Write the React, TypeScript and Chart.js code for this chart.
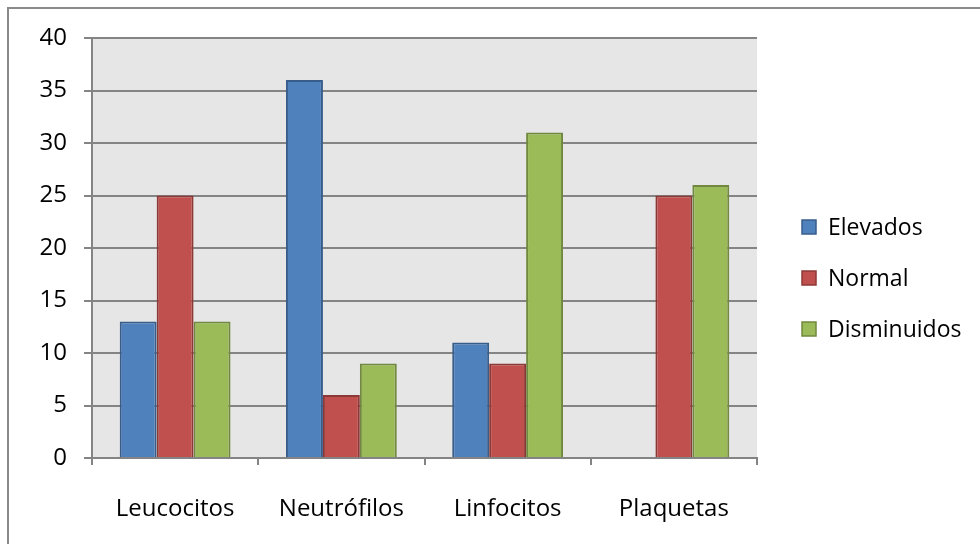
import React, { useEffect, useRef } from "react";
import { Chart, registerables } from "chart.js";

Chart.register(...registerables);

const categories = ["Leucocitos", "Neutrófilos", "Linfocitos", "Plaquetas"];
const seriesNames = ["Elevados", "Normal", "Disminuidos"];
const elevados = [13, 36, 11, null];
const normal = [25, 6, 9, 25];
const disminuidos = [13, 9, 31, 26];
const yTicks = [0, 5, 10, 15, 20, 25, 30, 35, 40];

const fills = ["#4f81bd", "#c0504d", "#9bbb59"];
const borders = ["#385d8a", "#8c3836", "#71893f"];
const FONT = "'Open Sans', 'DejaVu Sans', sans-serif";
const GRID = "#848484";

// Grey plot background behind the bars
const plotBackground = {
  id: "plotBackground",
  beforeDraw(chart: any) {
    const { ctx, chartArea } = chart;
    ctx.save();
    ctx.fillStyle = "#e6e6e6";
    ctx.fillRect(chartArea.left, chartArea.top, chartArea.right - chartArea.left, chartArea.bottom - chartArea.top);
    ctx.restore();
  },
};

// Legend drawn as a vertical list to the right of the plot
const sideLegend = {
  id: "sideLegend",
  afterDraw(chart: any) {
    const { ctx } = chart;
    const x = 802;
    const y0 = 227;
    const step = 51;
    const box = 14;
    ctx.save();
    ctx.font = `23px ${FONT}`;
    ctx.textBaseline = "middle";
    ctx.textAlign = "left";
    chart.data.datasets.forEach((ds: any, i: number) => {
      const cy = y0 + i * step;
      ctx.fillStyle = ds.backgroundColor;
      ctx.fillRect(x, cy - box / 2, box, box);
      ctx.strokeStyle = ds.borderColor;
      ctx.lineWidth = 1.5;
      ctx.strokeRect(x, cy - box / 2, box, box);
      ctx.fillStyle = "#000";
      ctx.fillText(ds.label, x + 26, cy + 1);
    });
    ctx.restore();
  },
};

export default function App() {
  const ref = useRef<HTMLCanvasElement>(null);

  useEffect(() => {
    if (!ref.current) return;
    const values = [elevados, normal, disminuidos];
    const chart = new Chart(ref.current, {
      type: "bar",
      data: {
        labels: categories,
        datasets: seriesNames.map((name, i) => ({
          label: name,
          data: values[i],
          backgroundColor: fills[i],
          borderColor: borders[i],
          borderWidth: 2,
          borderSkipped: "bottom",
          barPercentage: 1,
          categoryPercentage: 2 / 3,
        })),
      },
      options: {
        animation: false,
        responsive: false,
        maintainAspectRatio: false,
        layout: { padding: { left: 0, top: 38, right: 223, bottom: 0 } },
        plugins: {
          legend: { display: false },
          tooltip: { enabled: false },
        },
        scales: {
          x: {
            offset: true,
            grid: {
              offset: true,
              drawOnChartArea: false,
              drawTicks: true,
              tickLength: 7,
              color: GRID,
              lineWidth: 2,
            },
            border: { display: true, color: GRID, width: 2 },
            ticks: {
              color: "#000",
              font: { family: FONT, size: 24 },
              padding: 30,
              maxRotation: 0,
            },
            afterFit(scale: any) {
              scale.height = 86;
            },
          },
          y: {
            min: 0,
            max: 40,
            afterBuildTicks(scale: any) {
              scale.ticks = yTicks.map((v) => ({ value: v }));
            },
            grid: {
              color: GRID,
              lineWidth: 2,
              tickLength: 8,
              drawTicks: true,
            },
            border: { display: true, color: GRID, width: 2 },
            ticks: {
              color: "#000",
              font: { family: FONT, size: 24 },
              padding: 17,
            },
            afterFit(scale: any) {
              scale.width = 92;
            },
          },
        },
      },
      plugins: [plotBackground, sideLegend],
    });
    return () => chart.destroy();
  }, []);

  return (
    <div style={{ position: "fixed", left: 0, top: 0, width: 980, height: 544, overflow: "hidden", background: "#fff" }}>
      <div
        style={{
          position: "absolute",
          left: 7,
          top: 7,
          width: 1200,
          height: 900,
          border: "2px solid #8a8a8a",
        }}
      />
      <canvas ref={ref} width={980} height={544} style={{ position: "absolute", left: 0, top: 0, width: 980, height: 544 }} />
    </div>
  );
}
